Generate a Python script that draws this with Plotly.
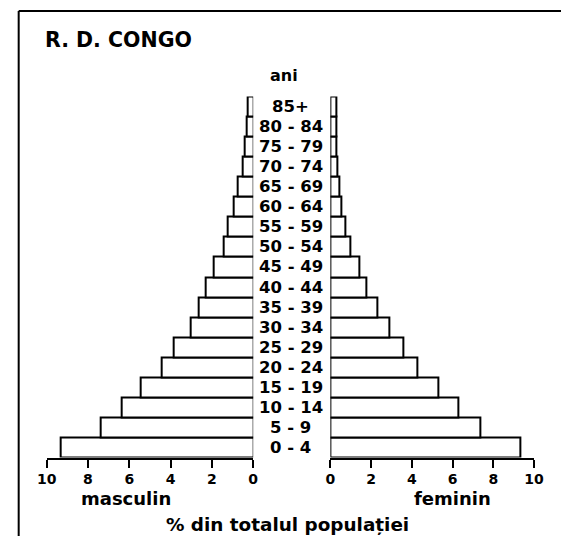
import plotly.graph_objects as go

# ---- data ----
age_groups = ["0 - 4", "5 - 9", "10 - 14", "15 - 19", "20 - 24", "25 - 29", "30 - 34",
              "35 - 39", "40 - 44", "45 - 49", "50 - 54", "55 - 59", "60 - 64",
              "65 - 69", "70 - 74", "75 - 79", "80 - 84", "85+"]
male = [9.3, 7.4, 6.35, 5.45, 4.45, 3.85, 3.05, 2.65, 2.3, 1.9, 1.45, 1.25, 0.94,
        0.75, 0.5, 0.39, 0.3, 0.28]
female = [9.35, 7.35, 6.27, 5.28, 4.25, 3.57, 2.91, 2.31, 1.78, 1.41, 0.99, 0.76,
          0.55, 0.44, 0.35, 0.31, 0.27, 0.27]
tick_values = [0, 2, 4, 6, 8, 10]
tick_labels = ["0", "2", "4", "6", "8", "10"]
title_text = "R. D. CONGO"
age_axis_title = "ani"
male_label = "masculin"
female_label = "feminin"
x_title = "% din totalul populației"

W, H = 571, 536
FONT = "DejaVu Sans"

def px(x):
    return x / W

def py(y):
    return 1 - y / H

bar_style = dict(color="white", line=dict(color="black", width=2))

fig = go.Figure()
fig.add_trace(go.Bar(x=male, y=age_groups, orientation="h", xaxis="x", yaxis="y",
                     marker=bar_style, showlegend=False, hoverinfo="skip"))
fig.add_trace(go.Bar(x=female, y=age_groups, orientation="h", xaxis="x2", yaxis="y",
                     marker=bar_style, showlegend=False, hoverinfo="skip"))

axis_common = dict(
    tickvals=tick_values, ticktext=tick_labels, ticks="outside", ticklen=8,
    tickwidth=2, tickcolor="black", showline=True, linewidth=2, linecolor="black",
    showgrid=False, zeroline=False, anchor="y",
    tickfont=dict(family=FONT, size=14, color="black", weight="bold"),
)

fig.update_layout(
    width=W, height=H,
    margin=dict(l=0, r=0, t=0, b=0),
    paper_bgcolor="white", plot_bgcolor="white",
    bargap=0,
    xaxis=dict(domain=[px(38), px(252)], range=[10, 0], **axis_common),
    xaxis2=dict(domain=[px(332), px(543)], range=[0, 10], **axis_common),
    yaxis=dict(domain=[py(457.5), py(96.5)], range=[-0.5, 17.5], type="category",
               categoryorder="array", categoryarray=age_groups, visible=False),
)

# frame
fig.add_shape(type="line", xref="paper", yref="paper", x0=px(9), x1=1, y0=py(11), y1=py(11),
              line=dict(color="black", width=2))
fig.add_shape(type="line", xref="paper", yref="paper", x0=px(9), x1=px(9), y0=py(11), y1=0,
              line=dict(color="black", width=2))

def note(text, x, y, size, xanchor="center", yref="paper"):
    fig.add_annotation(text=text, x=x, y=y, xref="paper", yref=yref, showarrow=False,
                       xanchor=xanchor, yanchor="middle",
                       font=dict(family=FONT, size=size, color="black", weight="bold"))

note(title_text, px(34), py(40), 20.5, xanchor="left")
note(age_axis_title, px(284), py(75), 16)
for g in age_groups:
    note(g, px(291), g, 16.5, yref="y")
note(male_label, px(120), py(498), 18)
note(female_label, px(459), py(498), 18)
note(x_title, px(288), py(524), 18.4)

fig.write_html(
    "out.html",
    config={"displayModeBar": False},
    post_script="document.body.style.margin='0';document.body.style.overflow='hidden';",
)
